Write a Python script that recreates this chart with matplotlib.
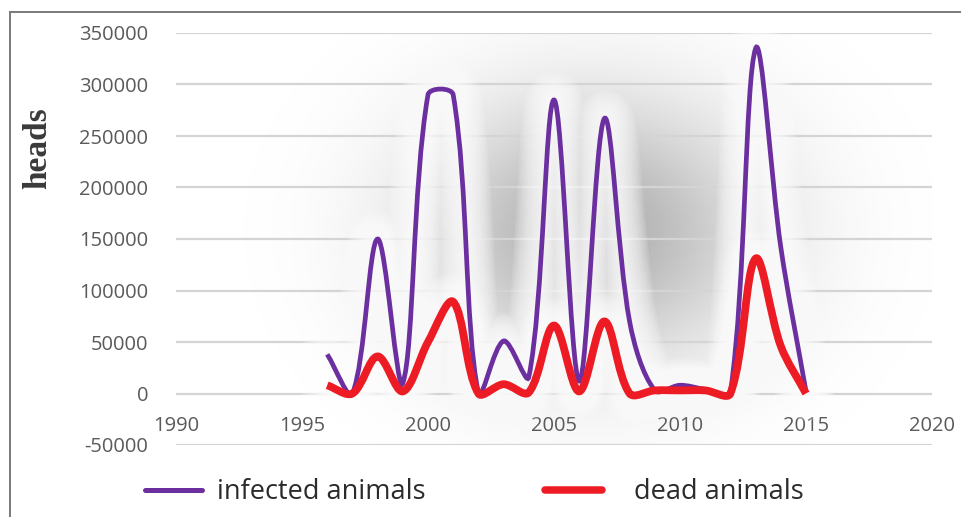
import numpy as np
import matplotlib
matplotlib.use("Agg")
import matplotlib.pyplot as plt
from matplotlib.path import Path
from matplotlib.patches import PathPatch
from matplotlib.lines import Line2D

plt.rcParams["axes.unicode_minus"] = False

years = [1996, 1997, 1998, 1999, 2000, 2001, 2002, 2003, 2004, 2005,
         2006, 2007, 2008, 2009, 2010, 2011, 2012, 2013, 2014, 2015]
infected = [38000, 0, 150000, 10000, 290000, 290000, 0, 51000, 16000, 285000,
            12000, 267000, 70000, 3000, 8000, 4000, 1000, 335000, 142000, 2000]
dead = [8000, 0, 36000, 2000, 50000, 89000, 0, 9000, 1000, 66000,
        2000, 70000, 0, 3000, 3000, 3000, 0, 131000, 46000, 0]

x_ticks = [1990, 1995, 2000, 2005, 2010, 2015, 2020]
y_ticks = [-50000, 0, 50000, 100000, 150000, 200000, 250000, 300000, 350000]

PURPLE = "#6b2fa0"
RED = "#ec1b24"
TICK_GRAY = "#5a5a5a"

W, H = 961, 517
fig = plt.figure(figsize=(W / 100, H / 100), dpi=100)
ax = fig.add_axes([176 / W, (H - 445) / H, (932 - 176) / W, (445 - 33) / H])
ax.set_xlim(1990, 2020)
ax.set_ylim(-50000, 350000)


def smooth_path(xs, ys, k=1 / 3):
    # Bezier smoothing done in screen space, control arms scaled by chord lengths
    pts = ax.transData.transform(np.column_stack([xs, ys]))
    ext = np.vstack([pts[0], pts, pts[-1]])
    c_in, c_out = [], []
    for i in range(len(pts)):
        prev, cur, nxt = ext[i], ext[i + 1], ext[i + 2]
        t = nxt - prev
        d0 = np.hypot(*(cur - prev))
        d1 = np.hypot(*(nxt - cur))
        s = (d0 + d1) or 1.0
        c_out.append(cur + t * k * d1 / s)
        c_in.append(cur - t * k * d0 / s)
    verts = [pts[0]]
    codes = [Path.MOVETO]
    for i in range(len(pts) - 1):
        verts += [c_out[i], c_in[i + 1], pts[i + 1]]
        codes += [Path.CURVE4] * 3
    verts = ax.transData.inverted().transform(np.array(verts))
    return Path(verts, codes)


# soft grey haze behind the plot
u = np.linspace(0, 1, 300)
v = np.linspace(0, 1, 200)
U, V = np.meshgrid(u, v)
shade = 0.31 * np.exp(-((U - 0.55) / 0.22) ** 2 - ((V - 0.52) / 0.32) ** 2)
ax.imshow(1 - shade, cmap="gray", vmin=0, vmax=1, origin="lower",
          extent=(1990, 2020, -50000, 350000), aspect="auto",
          interpolation="bilinear", zorder=0)

ax.set_xticks(x_ticks)
ax.set_yticks(y_ticks)
ax.set_axisbelow(True)
ax.grid(axis="y", color="#d4d4d4", linewidth=1.6)
ax.grid(axis="x", visible=False)
for side in ["top", "right", "left"]:
    ax.spines[side].set_visible(False)
ax.spines["bottom"].set_position(("data", 0))
ax.spines["bottom"].set_visible(False)
ax.tick_params(length=0, labelsize=14.5, labelcolor=TICK_GRAY)
ax.tick_params(axis="x", pad=16)
ax.tick_params(axis="y", pad=20)
for lab in ax.get_xticklabels() + ax.get_yticklabels():
    lab.set_family("Open Sans")

p_inf = smooth_path(years, infected)
p_dead = smooth_path(years, dead)

# white glow under both lines
for path in (p_inf, p_dead):
    for lw in np.linspace(40, 8, 12):
        ax.add_patch(PathPatch(path, fill=False, edgecolor="white", lw=lw,
                               alpha=0.13, capstyle="round", joinstyle="round",
                               zorder=2))

ax.add_patch(PathPatch(p_inf, fill=False, edgecolor=PURPLE, lw=3.4,
                       capstyle="butt", zorder=3))
ax.add_patch(PathPatch(p_dead, fill=False, edgecolor=RED, lw=5.6,
                       capstyle="butt", joinstyle="round", zorder=4))

fig.text(38 / W, 1 - 148 / H, "heads", rotation=90, ha="center", va="center",
         family="Liberation Serif", weight="bold", fontsize=24, color="#3a3a3a")

# legend entries below the plot
leg_items = [("infected animals", PURPLE, 3.6, 145, 0.55),
             ("dead animals", RED, 5.4, 545, 1.2)]
for label, col, lw, xpx, gap in leg_items:
    handle = Line2D([], [], color=col, lw=lw, solid_capstyle="round")
    fig.legend([handle], [label], loc="center left",
               bbox_to_anchor=(xpx / W, 1 - 492 / H), frameon=False,
               borderpad=0, borderaxespad=0, handlelength=2.1,
               handletextpad=gap,
               prop={"family": "Open Sans", "size": 19.5},
               labelcolor="#2b2b2b")

# outer frame
fig.add_artist(Line2D([10 / W, 10 / W], [0, 1 - 12 / H], transform=fig.transFigure,
                      color="#7a7a7a", lw=1.4))
fig.add_artist(Line2D([10 / W, 1], [1 - 12 / H, 1 - 12 / H], transform=fig.transFigure,
                      color="#7a7a7a", lw=1.4))

fig.savefig("out.png", dpi=100)
